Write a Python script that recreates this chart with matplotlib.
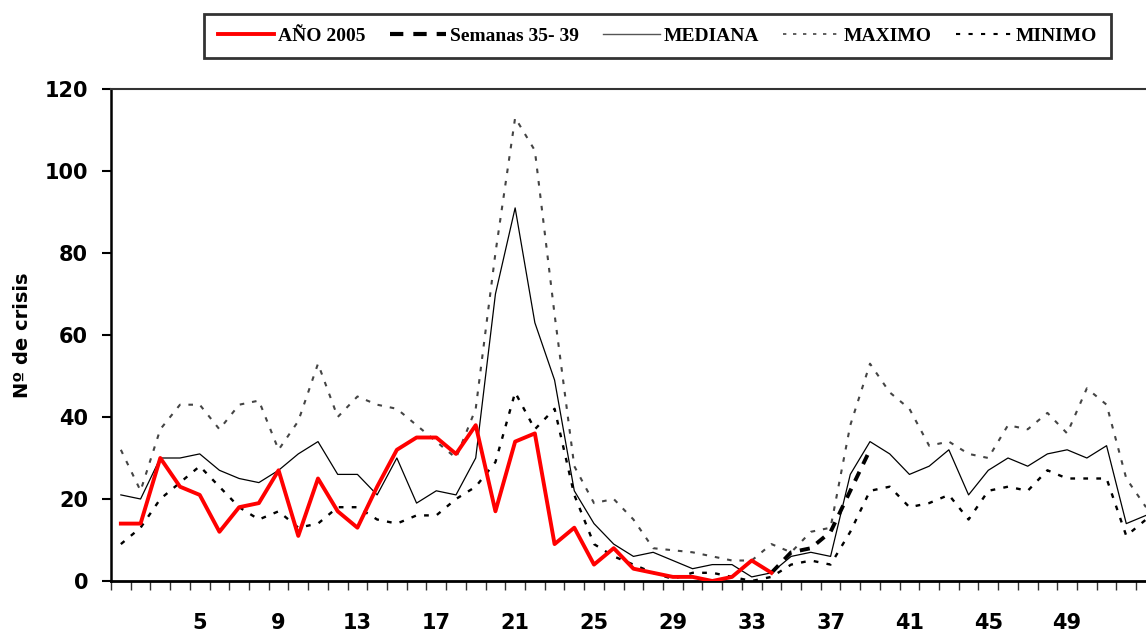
import numpy as np
import matplotlib
matplotlib.use("Agg")
import matplotlib.pyplot as plt
from matplotlib.lines import Line2D

# semanas epidemiologicas
weeks = list(range(1, 54))
tick_weeks = [5, 9, 13, 17, 21, 25, 29, 33, 37, 41, 45, 49]

# AÑO 2005 (semanas 1-34)
ano_2005 = [14, 14, 30, 23, 21, 12, 18, 19, 27, 11, 25, 17, 13, 23, 32, 35, 35,
            31, 38, 17, 34, 36, 9, 13, 4, 8, 3, 2, 1, 1, 0, 1, 5, 2]
# semanas 35-39 (se une al ultimo punto de la semana 34)
semanas_weeks = [34, 35, 36, 37, 38, 39]
semanas = [2, 7, 8, 12, 22, 32]

mediana = [21, 20, 30, 30, 31, 27, 25, 24, 27, 31, 34, 26, 26, 21, 30, 19, 22,
           21, 30, 70, 91, 63, 49, 22, 14, 9, 6, 7, 5, 3, 4, 4, 1, 2, 6, 7, 6,
           26, 34, 31, 26, 28, 32, 21, 27, 30, 28, 31, 32, 30, 33, 14, 16]
maximo = [32, 22, 37, 43, 43, 37, 43, 44, 32, 39, 53, 40, 45, 43, 42, 38, 34,
          30, 42, 80, 113, 105, 65, 28, 19, 20, 15, 8, 7.5, 7, 6, 5, 5, 9, 7,
          12, 13, 38, 53, 46, 42, 33, 34, 31, 30, 38, 37, 41, 36, 47, 43, 25, 18]
minimo = [9, 13, 20, 24, 28, 23, 18, 15, 17, 13, 14, 18, 18, 15, 14, 16, 16,
          20, 23, 29, 46, 37, 42, 21, 9, 6, 4, 2, 0.5, 2, 2, 1, 0, 1, 4, 5, 4,
          12, 22, 23, 18, 19, 21, 15, 22, 23, 22, 27, 25, 25, 25, 11, 15]

labels = ["AÑO 2005", "Semanas 35- 39", "MEDIANA", "MAXIMO", "MINIMO"]


def main():
    fig = plt.figure(figsize=(11.46, 6.32), dpi=100)
    ax = fig.add_axes([111 / 1146, 51 / 632, 1 - 111 / 1146, 492 / 632])

    ax.plot(weeks, maximo, color="#444444", lw=1.5, dashes=(2.2, 3.8), zorder=2)
    ax.plot(weeks, minimo, color="black", lw=1.7, dashes=(2, 3.5), zorder=2)
    ax.plot(weeks, mediana, color="black", lw=0.9, zorder=3)
    ax.plot(semanas_weeks, semanas, color="black", lw=2.8, dashes=(2.6, 2.2), zorder=4)
    ax.plot(weeks[:len(ano_2005)], ano_2005, color="red", lw=2.8, zorder=5)

    ax.set_xlim(0.5, 53.0)
    ax.set_ylim(0, 120)
    ax.set_yticks(range(0, 121, 20))
    ax.set_xticks(tick_weeks)
    ax.set_xticks(np.arange(0.5, 53, 1), minor=True)
    ax.tick_params(axis="x", which="major", length=0, pad=23)
    ax.tick_params(axis="x", which="minor", length=6.5, width=1, color="#333333")
    ax.tick_params(axis="y", length=6.5, width=1.5, pad=10)

    for lab in ax.get_xticklabels() + ax.get_yticklabels():
        lab.set_fontfamily("DejaVu Sans")
        lab.set_fontweight("bold")
        lab.set_fontsize(15)

    ax.set_ylabel("Nº de crisis", fontfamily="DejaVu Sans", fontweight="bold",
                  fontsize=14, labelpad=9)

    ax.spines["left"].set_linewidth(1.8)
    ax.spines["bottom"].set_linewidth(2)
    ax.spines["top"].set_linewidth(1.5)
    ax.spines["top"].set_color("#333333")
    ax.spines["right"].set_visible(False)

    handles = [
        Line2D([], [], color="red", lw=2.8),
        Line2D([], [], color="black", lw=3, dashes=(3.2, 2.4)),
        Line2D([], [], color="#555555", lw=1.0),
        Line2D([], [], color="#444444", lw=1.2, dashes=(2, 4)),
        Line2D([], [], color="black", lw=1.5, dashes=(2, 4)),
    ]
    leg = fig.legend(handles, labels, ncol=5, loc="center",
                     bbox_to_anchor=(657.5 / 1146, 596 / 632),
                     fancybox=False, borderpad=0.7, borderaxespad=0,
                     handlelength=2.9, handletextpad=0.2, columnspacing=1.25,
                     prop={"family": "Liberation Serif", "weight": "bold", "size": 14})
    leg.get_frame().set_edgecolor("black")
    leg.get_frame().set_linewidth(2)

    fig.savefig("out.png", dpi=100)


if __name__ == "__main__":
    main()
